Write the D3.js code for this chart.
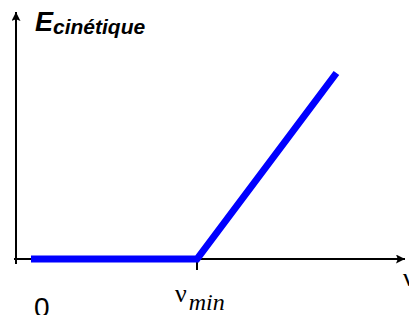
<!DOCTYPE html>
<html><head><meta charset="utf-8">
<script src="https://cdn.jsdelivr.net/npm/d3@7"></script>
<style>html,body{margin:0;padding:0;background:#fff;overflow:hidden}</style>
</head><body>
<script>
const nuValues = [0, 1, 1.84];
const energyValues = [0, 0, 0.84];
const xTickLabels = ["0", "ν", "min"];

const W = 409, H = 315;
const svg = d3.select("body").append("svg").attr("width", W).attr("height", H);

const x = d3.scaleLinear().domain([0, 1]).range([31, 197]);
const y = d3.scaleLinear().domain([0, 0.84]).range([259, 73]);

const defs = svg.append("defs");
defs.append("marker").attr("id", "arr").attr("viewBox", "0 0 10 10")
  .attr("refX", 10).attr("refY", 5).attr("markerWidth", 20).attr("markerHeight", 9)
  .attr("markerUnits", "userSpaceOnUse").attr("orient", "auto")
  .append("path").attr("d", "M0,0 L10,5 L0,10 L2,5 Z").attr("fill", "#000");

// x axis
svg.append("line").attr("x1", 14).attr("x2", 405).attr("y1", y(0)).attr("y2", y(0))
  .attr("stroke", "#000").attr("stroke-width", 2).attr("marker-end", "url(#arr)");
// y axis
svg.append("line").attr("x1", 16).attr("x2", 16).attr("y1", 264).attr("y2", 12)
  .attr("stroke", "#000").attr("stroke-width", 2).attr("marker-end", "url(#arr)");
// tick at nu_min
svg.append("line").attr("x1", x(1)).attr("x2", x(1)).attr("y1", y(0)).attr("y2", y(0) + 11)
  .attr("stroke", "#000").attr("stroke-width", 2);

// data line
const line = d3.line().x((d, i) => x(nuValues[i])).y((d, i) => y(energyValues[i]));
svg.append("path").datum(nuValues).attr("d", line)
  .attr("fill", "none").attr("stroke", "#0000ff").attr("stroke-width", 7)
  .attr("stroke-linejoin", "miter");

// labels
svg.append("text").attr("x", 34).attr("y", 317).attr("font-family", "Liberation Sans, Arial, sans-serif")
  .attr("font-size", 28).text(xTickLabels[0]);
const nt = svg.append("text").attr("x", 175).attr("y", 302).attr("font-family", "Liberation Serif, Times New Roman, serif");
nt.append("tspan").attr("font-size", 26).text(xTickLabels[1]);
nt.append("tspan").attr("font-size", 24).attr("font-style", "italic").attr("dy", 8).attr("dx", 2).text(xTickLabels[2]);

svg.append("text").attr("x", 403).attr("y", 286).attr("font-family", "Liberation Serif, Times New Roman, serif")
  .attr("font-size", 26).text("ν");

const et = svg.append("text").attr("x", 35).attr("y", 31)
  .attr("font-family", "Liberation Sans, Arial, sans-serif").attr("font-weight", "bold").attr("font-style", "italic");
et.append("tspan").attr("font-size", 27).text("E");
et.append("tspan").attr("font-size", 21).attr("dy", 3).text("cinétique");
</script>
</body></html>
